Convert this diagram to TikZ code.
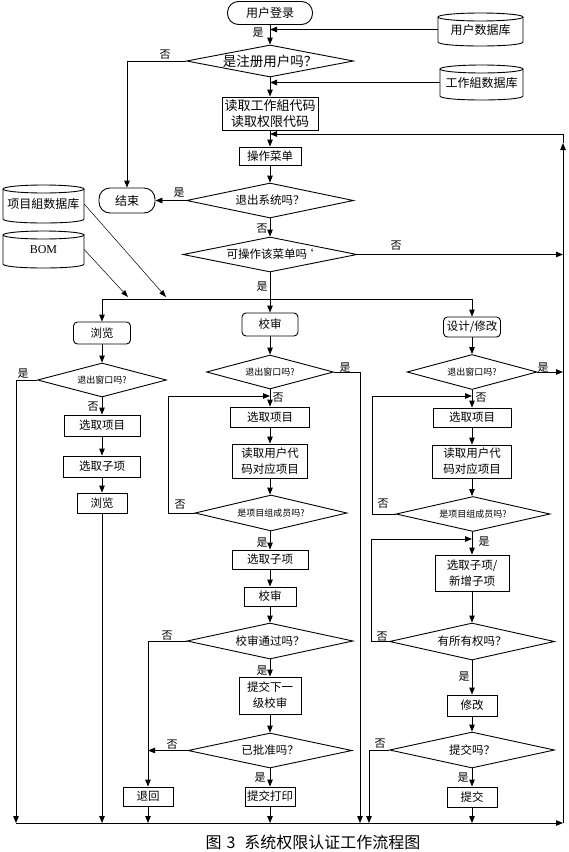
\documentclass[tikz,border=0pt]{standalone}
\usepackage{fontspec}
\setmainfont{Noto Sans CJK SC}
\newfontfamily\bomfont{Liberation Serif}
\usetikzlibrary{shapes.geometric,arrows.meta}
\newcommand\fs[2]{\fontsize{#1}{#2}\selectfont}
\tikzset{
  base/.style={draw, line width=0.9pt, inner sep=0pt, font=\fs{11.5}{16}},
  box/.style={base, rectangle},
  term/.style={base, rectangle, rounded corners=11pt},
  rbox/.style={base, rectangle, rounded corners=4pt},
  dec/.style={base, diamond},
  lab/.style={inner sep=0pt, font=\fs{11}{12}},
  line/.style={line width=0.9pt},
  arr/.style={line width=0.9pt, -{Triangle[length=7pt,width=5.5pt]}},
  thinarr/.style={line width=0.5pt, -{Triangle[length=7pt,width=5pt]}},
}
\newcommand\dbcyl[6]{%
  \node[inner sep=0pt, minimum width={#4-#2}, minimum height={#5-#3}, font=\fs{12}{14}] (#1) at ({(#2+#4)/2},{(#3+#5)/2}) {\raisebox{-4pt}{#6}};
  \draw[line] (#2,#3+4) -- (#2,#5-4) .. controls (#2,#5+1.33) and (#4,#5+1.33) .. (#4,#5-4) -- (#4,#3+4);
  \draw[line] ({(#2+#4)/2},#3+4) ellipse [x radius={(#4-#2)/2}, y radius=4];
}
\begin{document}
\begin{tikzpicture}[x=1pt,y=-1pt]
\fill[white] (0,0) rectangle (569,852);
\useasboundingbox (0,0) rectangle (569,852);

% ---------- top part ----------
\node[term, minimum width=85pt, minimum height=23pt, font=\fs{12}{14}] (login) at (270,13) {用户登录};
\dbcyl{udb}{438}{13}{523}{46}{用户数据库}
\node[dec, aspect=5.2, minimum width=167pt, minimum height=32pt, font=\fs{13.5}{16}] (reg) at (270,61) {是注册用户吗？};
\dbcyl{gdb}{440}{65}{523}{100}{工作組数据库}
\node[box, minimum width=96pt, minimum height=33pt, align=center, font=\fs{13}{15.5}] (read) at (270,113.5) {读取工作組代码\\读取权限代码};
\node[box, minimum width=62pt, minimum height=18pt] (menu) at (270,156) {操作菜单};
\node[dec, aspect=4.8, minimum width=167pt, minimum height=35pt] (exitsys) at (270,200.5) {退出系统吗？};
\node[term, minimum width=56pt, minimum height=25pt, font=\fs{12}{14}] (fin) at (127,200.5) {结束};
\node[dec, aspect=5, minimum width=174pt, minimum height=35pt] (canop) at (270,254.5) {可操作该菜单吗\kern-5pt‘};
\dbcyl{pdb}{3}{185}{84}{223}{项目組数据库}
\dbcyl{bom}{3}{231}{84}{268}{\bomfont BOM}

% ---------- left column ----------
\node[rbox, minimum width=57pt, minimum height=22pt] (browse) at (102,333) {浏览};
\node[dec, aspect=3.8, minimum width=129pt, minimum height=34pt, font=\fs{9}{11}] (lq) at (102,380) {退出窗口吗?};
\node[box, minimum width=76pt, minimum height=21pt] (lsel) at (102,425.5) {选取项目};
\node[box, minimum width=77pt, minimum height=21pt] (lsub) at (102,466.5) {选取子项};
\node[box, minimum width=50pt, minimum height=20pt] (lview) at (102,503) {浏览};

% ---------- middle column ----------
\node[rbox, minimum width=56pt, minimum height=23pt] (audit) at (270,324.5) {校审};
\node[dec, aspect=3.7, minimum width=127pt, minimum height=34pt, font=\fs{9}{11}] (mq) at (270,372) {退出窗口吗?};
\node[box, minimum width=79pt, minimum height=20pt] (msel) at (270,417) {选取项目};
\node[box, minimum width=75pt, minimum height=34pt, align=center] (mread) at (270,461) {读取用户代\\码对应项目};
\node[dec, aspect=4.2, minimum width=152pt, minimum height=36pt, font=\fs{9}{11}] (mmem) at (271,513) {是项目组成员吗?};
\node[box, minimum width=76pt, minimum height=19pt] (msub) at (270,559.5) {选取子项};
\node[box, minimum width=52pt, minimum height=19pt] (maud) at (270,596.5) {校审};
\node[dec, aspect=4.6, minimum width=166pt, minimum height=36pt] (mpass) at (270,641) {校审通过吗？};
\node[box, minimum width=62pt, minimum height=37pt, align=center] (msubmit) at (270,695.5) {提交下一\\级校审};
\node[dec, aspect=4.7, minimum width=164pt, minimum height=35pt] (mappr) at (270,750.5) {已批准吗？};
\node[box, minimum width=50pt, minimum height=19pt] (mprint) at (270,796.5) {提交打印};
\node[box, minimum width=50pt, minimum height=19pt] (mback) at (148,796.5) {退回};

% ---------- right column ----------
\node[rbox, minimum width=57pt, minimum height=20pt] (design) at (472,327) {设计/修改};
\node[dec, aspect=3.7, minimum width=130pt, minimum height=35pt, font=\fs{9}{11}] (rq) at (472,372) {退出窗口吗?};
\node[box, minimum width=78pt, minimum height=19pt] (rsel) at (472,417.5) {选取项目};
\node[box, minimum width=79pt, minimum height=33pt, align=center] (rread) at (472,461.5) {读取用户代\\码对应项目};
\node[dec, aspect=4.4, minimum width=154pt, minimum height=35pt, font=\fs{9}{11}] (rmem) at (473,514) {是项目组成员吗?};
\node[box, minimum width=74pt, minimum height=36pt, align=center] (rsub) at (472,573) {选取子项/\\新增子项};
\node[dec, aspect=4.5, minimum width=165pt, minimum height=37pt] (rown) at (472,641.5) {有所有权吗？};
\node[box, minimum width=50pt, minimum height=21pt] (rmod) at (472,705.5) {修改};
\node[dec, aspect=4.6, minimum width=165pt, minimum height=36pt] (rsubq) at (472,750) {提交吗？};
\node[box, minimum width=50pt, minimum height=20pt] (rsubmit) at (472,797) {提交};

% ---------- caption ----------
\node[inner sep=0pt, font=\fs{16}{18}] (cap) at (313,842) {图\hspace{5pt}3\hspace{9pt}系统权限认证工作流程图};

% ---------- coordinates ----------
\coordinate (tr) at (563,134);
\coordinate (br) at (563,823);
\coordinate (rup) at (563,143);
\coordinate (bL) at (16,823);
\coordinate (bM) at (360,823);
\coordinate (bR) at (369,823);
\coordinate (dL) at (102,299);
\coordinate (dM) at (270,299);
\coordinate (dR) at (472,299);
\coordinate (pdbEnd) at (166,297);
\coordinate (bomEnd) at (128,297);
\coordinate (mloop) at (168,396);
\coordinate (rloop) at (372,396);
\coordinate (rloop2) at (371,539);

% ---------- connectors: top ----------
\draw[arr] (login) -- (reg);
\draw[arr] (udb.west) -- (udb.west -| login.south);
\draw[arr] (reg.west) -| (fin.north);
\draw[arr] (reg.south) -- (read.north);
\draw[arr] (gdb.west) -- (gdb.west -| read.north);
\draw[arr] (read.south) -- (menu.north);
\draw[arr] (menu.south) -- (exitsys.north);
\draw[arr] (exitsys.west) -- (fin.east);
\draw[arr] (exitsys.south) -- (canop.north);
\draw[arr] (canop.east) -- (canop.east -| tr);
\draw[line] (canop.south) -- (dM);
\draw[line] (dL) -- (dR);
\draw[thinarr] (pdb.east) -- (pdbEnd);
\draw[thinarr] (bom.east) -- (bomEnd);
\draw[arr] (dL) -- (browse.north);
\draw[arr] (dM) -- (audit.north);
\draw[arr] (dR) -- (design.north);

% ---------- connectors: left ----------
\draw[arr] (browse.south) -- (lq.north);
\draw[arr] (lq.west) -| (bL);
\draw[arr] (lq.south) -- (lsel.north);
\draw[arr] (lsel.south) -- (lsub.north);
\draw[arr] (lsub.south) -- (lview.north);
\draw[arr] (lview.south) -- (lview.south |- bL);

% ---------- connectors: middle ----------
\draw[arr] (audit.south) -- (mq.north);
\draw[arr] (mq.east) -| (bM);
\draw[arr] (mq.south) -- (msel.north);
\draw[arr] (msel.south) -- (mread.north);
\draw[arr] (mread.south) -- (mread.south |- mmem.north);
\draw[arr] (mmem.west) -| (mloop) -- (mloop -| msel.north);
\draw[arr] (mmem.south -| msub.north) -- (msub.north);
\draw[arr] (msub.south) -- (maud.north);
\draw[arr] (maud.south) -- (mpass.north);
\draw[arr] (mpass.west) -| (mback.north);
\draw[arr] (mpass.south) -- (msubmit.north);
\draw[arr] (msubmit.south) -- (mappr.north);
\draw[arr] (mappr.west) -- (mappr.west -| mback.north);
\draw[arr] (mappr.south) -- (mprint.north);
\draw[arr] (mback.south) -- (mback.south |- bL);
\draw[arr] (mprint.south) -- (mprint.south |- bL);

% ---------- connectors: right ----------
\draw[arr] (design.south) -- (rq.north);
\draw[arr] (rq.east) -- (rq.east -| tr);
\draw[arr] (rq.south) -- (rsel.north);
\draw[arr] (rsel.south) -- (rread.north);
\draw[arr] (rread.south) -- (rread.south |- rmem.north);
\draw[arr] (rmem.west) -| (rloop) -- (rloop -| rsel.north);
\draw[arr] (rmem.south -| rsub.north) -- (rsub.north);
\draw[arr] (rown.west) -| (rloop2) -- (rloop2 -| rsub.north);
\draw[arr] (rsub.south) -- (rown.north);
\draw[arr] (rown.south) -- (rmod.north);
\draw[arr] (rmod.south) -- (rsubq.north);
\draw[arr] (rsubq.west) -| (bR);
\draw[arr] (rsubq.south) -- (rsubmit.north);
\draw[arr] (rsubmit.south) -- (rsubmit.south |- bL);

% ---------- bottom line and return loop ----------
\draw[arr] (bL) -- (br);
\draw[arr] (br) -- (rup);
\draw[arr] (rup) -- (tr) -- (tr -| menu.north);

% ---------- labels ----------
\node[lab] (l1) at (258,33) {是};
\node[lab] (l2) at (165,55) {否};
\node[lab] (l3) at (179,193) {是};
\node[lab] (l4) at (262,229) {否};
\node[lab] (l5) at (396,246) {否};
\node[lab] (l6) at (262,287) {是};
\node[lab] (l7) at (23,374) {是};
\node[lab] (l8) at (93,407) {否};
\node[lab] (l9) at (345,368) {是};
\node[lab] (l10) at (278,398) {否};
\node[lab] (l11) at (180,505) {否};
\node[lab] (l12) at (262,543) {是};
\node[lab] (l13) at (167,636) {否};
\node[lab] (l14) at (262,671) {是};
\node[lab] (l15) at (172,745) {否};
\node[lab] (l16) at (260,778) {是};
\node[lab] (l17) at (543,368) {是};
\node[lab] (l18) at (481,398) {否};
\node[lab] (l19) at (383,504) {否};
\node[lab] (l20) at (484,542) {是};
\node[lab] (l21) at (382,637) {否};
\node[lab] (l22) at (464,677) {是};
\node[lab] (l23) at (380,744) {否};
\node[lab] (l24) at (463,778) {是};
\end{tikzpicture}
\end{document}
